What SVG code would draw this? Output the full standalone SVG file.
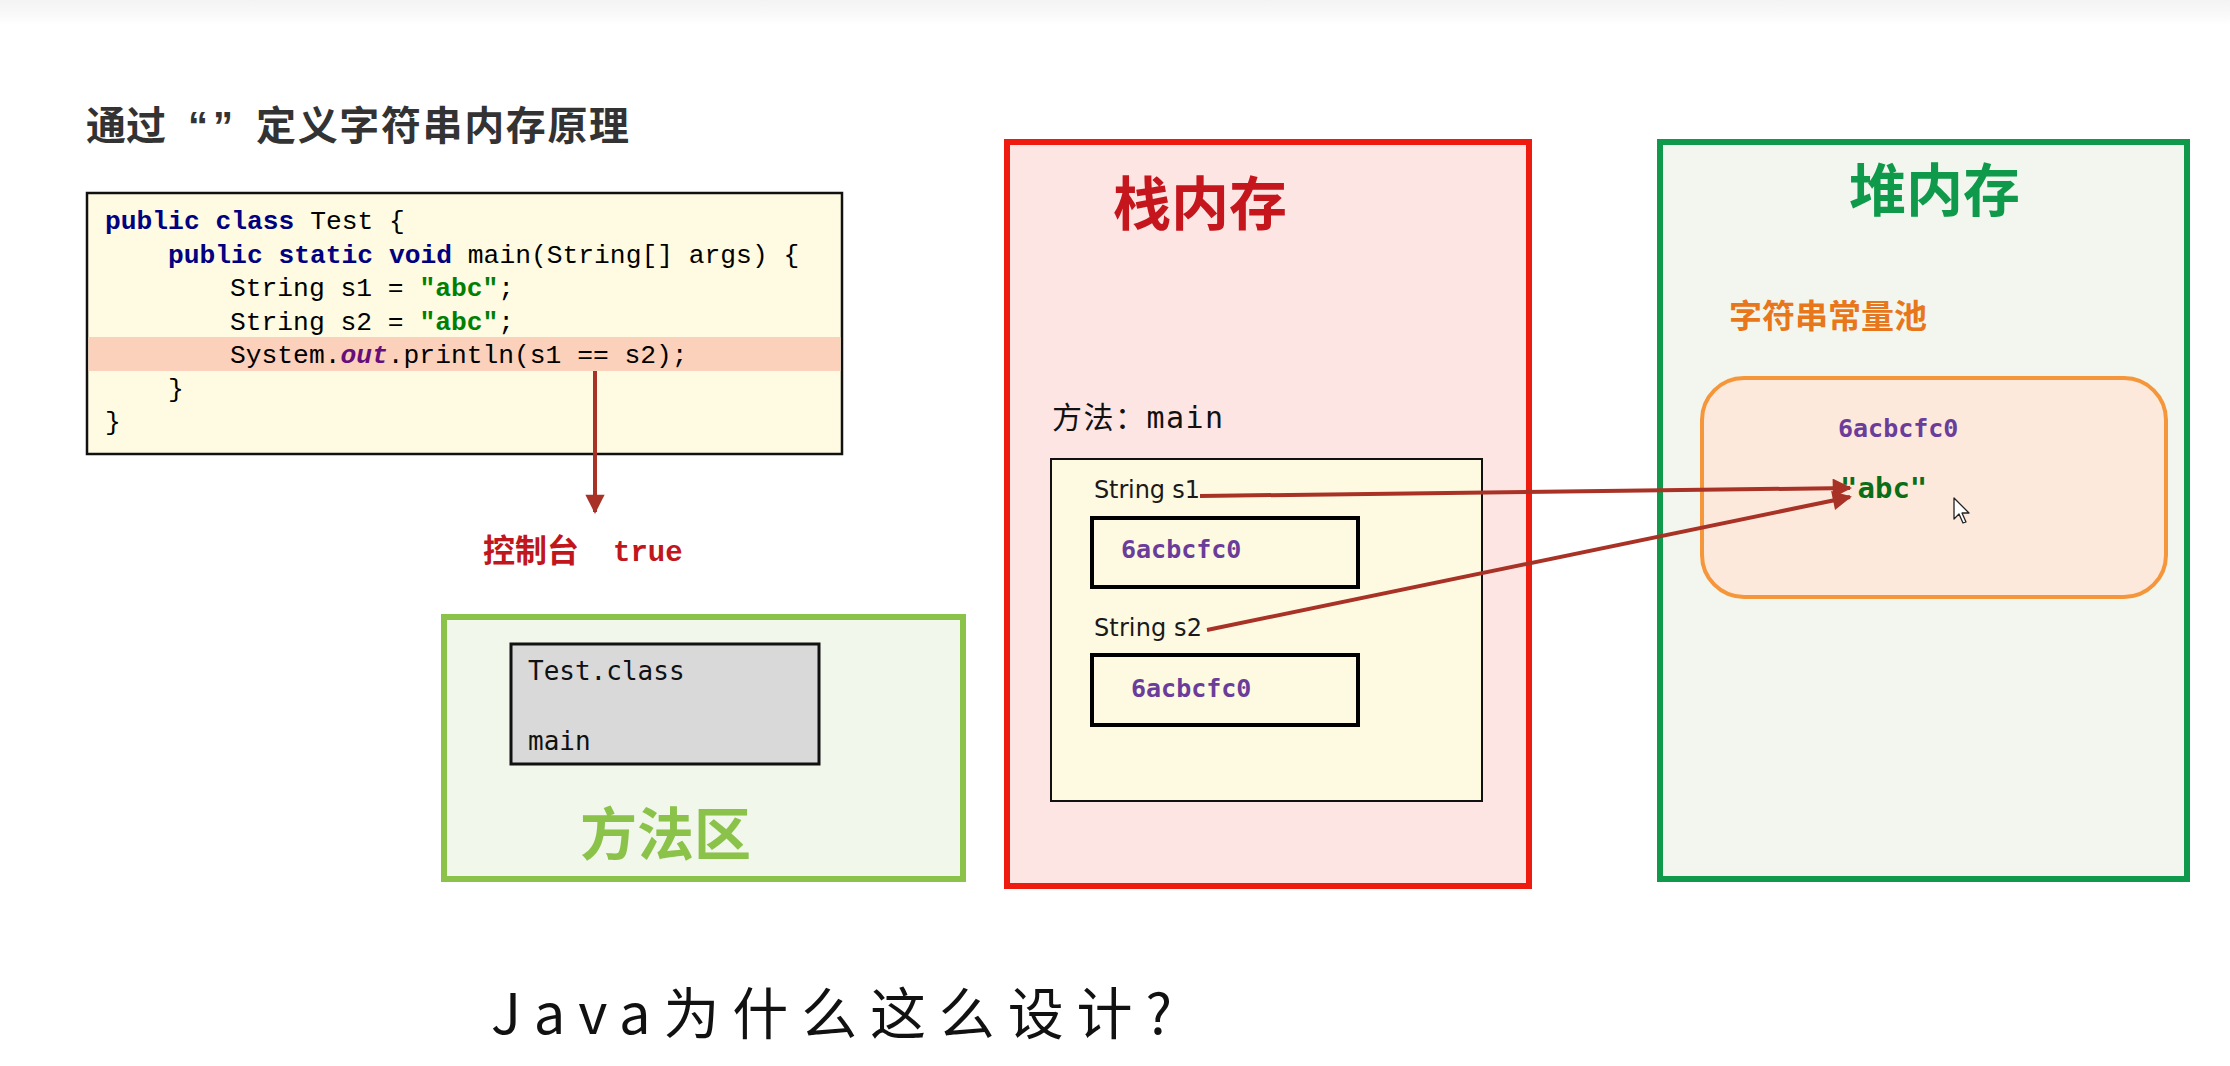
<svg xmlns="http://www.w3.org/2000/svg" width="2230" height="1066" viewBox="0 0 2230 1066">
<style>
.cjk{font-family:"Noto Sans CJK SC","Noto Sans",sans-serif;font-weight:bold}
.code{font-family:"Liberation Mono","DejaVu Sans Mono",monospace;font-size:26.3px;fill:#000}
.kw{fill:#000080;font-weight:bold}
.str{fill:#008000;font-weight:bold}
.fld{fill:#660e7a;font-weight:bold;font-style:italic}
.mono{font-family:"DejaVu Sans Mono","Liberation Mono","Noto Sans CJK SC",monospace}
.addr{font-family:"DejaVu Sans Mono","Liberation Mono",monospace;font-size:25px;font-weight:bold;fill:#6a3d9a}
.conn{stroke:#a93226;stroke-width:4;fill:none}
</style>
<defs>
<linearGradient id="topg" x1="0" y1="0" x2="0" y2="1">
<stop offset="0" stop-color="#f3f3f3"/>
<stop offset="1" stop-color="#ffffff"/>
</linearGradient>
<marker id="ah" viewBox="0 0 10 10" refX="9" refY="5" markerWidth="5.5" markerHeight="4.8" orient="auto" markerUnits="strokeWidth">
<path d="M0,0 L10,5 L0,10 z" fill="#a93226"/>
</marker>
</defs>
<rect width="2230" height="1066" fill="#ffffff"/>
<rect width="2230" height="26" fill="url(#topg)"/>

<g id="title">
<text class="cjk" x="86" y="140" font-size="40" fill="#333333">通过</text>
<text x="188" y="140" font-size="40" font-weight="bold" fill="#333333" font-family="Liberation Sans,sans-serif" textLength="45">“”</text>
<text class="cjk" x="256" y="140" font-size="40" fill="#333333" textLength="373">定义字符串内存原理</text>
</g>

<g id="code">
<rect x="87" y="193" width="755" height="261" fill="#fefbe2" stroke="#111" stroke-width="2.5"/>
<rect x="88.5" y="337" width="752" height="34" fill="#fcd1bb"/>
<text class="code" x="105" y="229"><tspan class="kw">public</tspan> <tspan class="kw">class</tspan> Test {</text>
<text class="code" x="168" y="262.5"><tspan class="kw">public</tspan> <tspan class="kw">static</tspan> <tspan class="kw">void</tspan> main(String[] args) {</text>
<text class="code" x="230" y="296">String s1 = <tspan class="str">"abc"</tspan>;</text>
<text class="code" x="230" y="329.5">String s2 = <tspan class="str">"abc"</tspan>;</text>
<text class="code" x="230" y="363">System.<tspan class="fld">out</tspan>.println(s1 == s2);</text>
<text class="code" x="168" y="396.5">}</text>
<text class="code" x="105" y="430">}</text>
</g>

<g id="console">
<text class="cjk" x="483" y="562" font-size="32" fill="#c0161c">控制台</text>
<text x="613" y="561" font-family="Liberation Mono,monospace" font-size="29" font-weight="bold" fill="#c0161c">true</text>
</g>

<g id="method-area">
<rect x="444" y="617" width="519" height="262" fill="#f1f7ea" stroke="#8bc34a" stroke-width="6"/>
<rect x="511" y="644" width="308" height="120" fill="#d9d9d9" stroke="#111" stroke-width="3"/>
<text class="mono" x="528" y="680" font-size="26" fill="#111">Test.class</text>
<text class="mono" x="528" y="750" font-size="26" fill="#111">main</text>
<text class="cjk" x="580" y="855" font-size="57" fill="#8bc34a">方法区</text>
</g>

<g id="stack">
<rect x="1007" y="142" width="522" height="744" fill="#fde5e3" stroke="#ee1c0e" stroke-width="6"/>
<text class="cjk" x="1113" y="225" font-size="58" fill="#c4161c">栈内存</text>
<text class="mono" x="1052" y="428" font-size="30" fill="#111" textLength="171">方法：main</text>
<rect x="1051" y="459" width="431" height="342" fill="#fefae2" stroke="#111" stroke-width="2"/>
<text x="1094" y="498" font-family="DejaVu Sans,sans-serif" font-size="24" fill="#1a1a1a" textLength="106">String s1</text>
<rect x="1092" y="518" width="266" height="69" fill="#fefae2" stroke="#000" stroke-width="4"/>
<text class="addr" x="1121" y="558">6acbcfc0</text>
<text x="1094" y="636" font-family="DejaVu Sans,sans-serif" font-size="24" fill="#1a1a1a" textLength="108">String s2</text>
<rect x="1092" y="655" width="266" height="70" fill="#fefae2" stroke="#000" stroke-width="4"/>
<text class="addr" x="1131" y="697">6acbcfc0</text>
</g>

<g id="heap">
<rect x="1660" y="142" width="527" height="737" fill="#f2f6ee" stroke="#0e9a4a" stroke-width="6"/>
<text class="cjk" x="1849" y="211" font-size="57" fill="#0e9a4a">堆内存</text>
<text class="cjk" x="1729" y="328" font-size="33" fill="#e8761a">字符串常量池</text>
<rect x="1702" y="378" width="464" height="219" rx="42" ry="42" fill="#fde9dc" stroke="#f5963a" stroke-width="4"/>
<text class="addr" x="1838" y="437">6acbcfc0</text>
<text x="1840" y="498" font-family="DejaVu Sans Mono,Liberation Mono,monospace" font-size="29" font-weight="bold" fill="#0b6e16">"abc"</text>
</g>

<g id="connectors">
<line class="conn" x1="595" y1="371" x2="595" y2="512" marker-end="url(#ah)"/>
<line class="conn" x1="1200" y1="496" x2="1850" y2="488" marker-end="url(#ah)"/>
<line class="conn" x1="1207" y1="630" x2="1850" y2="497" marker-end="url(#ah)"/>
</g>

<g id="cursor">
<path d="M1954,498 L1954,519 L1959,514 L1963,523 L1966,522 L1962,513 L1969,513 Z" fill="#ffffff" stroke="#222" stroke-width="1.3" stroke-linejoin="round"/>
</g>

<g id="question">
<text x="491" y="1034" font-family="Noto Sans CJK SC,sans-serif" font-size="56" fill="#111" textLength="681" lengthAdjust="spacing">Java为什么这么设计?</text>
</g>
</svg>
